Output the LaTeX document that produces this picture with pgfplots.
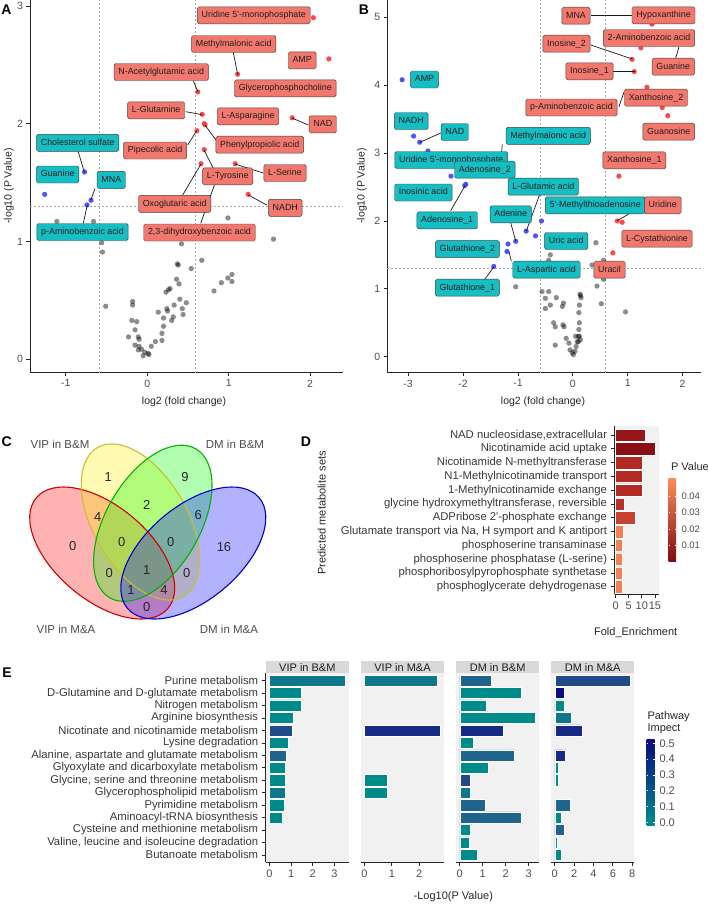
\documentclass[border=0pt]{standalone}
\usepackage{fontspec}
\setmainfont{Liberation Sans}
\usepackage{pgfplots}
\pgfplotsset{compat=1.18}

\definecolor{redpt}{RGB}{250,58,58}
\definecolor{bluept}{RGB}{68,68,250}
\definecolor{redlab}{RGB}{242,120,110}
\definecolor{tealab}{RGB}{20,190,195}
\definecolor{tickgray}{RGB}{77,77,77}
\definecolor{panelbg}{RGB}{241,241,241}
\definecolor{stripbg}{RGB}{217,217,217}
\definecolor{i0}{RGB}{0,139,139}
\definecolor{i1}{RGB}{15,119,139}
\definecolor{i2}{RGB}{30,100,140}
\definecolor{i3}{RGB}{32,74,138}
\definecolor{i4}{RGB}{21,42,133}
\definecolor{i5}{RGB}{10,10,128}
\definecolor{dc1}{RGB}{150,22,25}
\definecolor{dc2}{RGB}{138,15,20}
\definecolor{dc3}{RGB}{178,42,36}
\definecolor{dc4}{RGB}{184,48,40}
\definecolor{dc5}{RGB}{198,66,48}
\definecolor{dc6}{RGB}{244,128,82}
\definecolor{plow}{RGB}{125,12,18}
\definecolor{phigh}{RGB}{255,140,90}

\pgfplotsset{
  base/.style={
    scale only axis, anchor=north west, clip=false,
    axis x line=bottom, axis y line=left,
    axis line style={-, black!85, line width=0.9pt},
    tick align=outside, major tick length=3.5pt,
    tick style={black!85, line width=0.7pt},
    minor tick num=0,
    /pgf/number format/assume math mode=true,
    tick label style={text=tickgray},
    x axis line style={-}, y axis line style={-},
  },
  volc/.style={base, tick label style={font=\fontsize{10.5}{12}\selectfont}},
  refl/.style={dash pattern=on 2pt off 2pt, gray!70, line width=0.5pt},
  gpt/.style={only marks, mark=*, mark size=2.65pt, mark options={line width=0pt, draw opacity=0, fill=black, fill opacity=0.45}},
  rpt/.style={only marks, mark=*, mark size=2.6pt, mark options={line width=0pt, draw opacity=0, fill=redpt, fill opacity=0.92}},
  bpt/.style={only marks, mark=*, mark size=2.6pt, mark options={line width=0pt, draw opacity=0, fill=bluept, fill opacity=0.92}},
  bars/.style={base, axis background/.style={fill=panelbg},
     tick label style={font=\fontsize{11}{12}\selectfont},
     major tick length=4pt},
  bb/.style={xbar, bar width=0.9, bar shift=0pt, draw=white, line width=0.5pt},
}

\tikzset{
 lab/.style={draw=black!75, line width=0.45pt, rounded corners=1.6pt, inner xsep=4.3pt, inner ysep=0pt,
   minimum height=17pt, text height=6.5pt, text depth=1.8pt, font=\fontsize{8.9}{10}\selectfont, text=black!88},
 lr/.style={lab, fill=redlab}, lt/.style={lab, fill=tealab},
 cn/.style={black!90, line width=0.7pt},
 ttl/.style={font=\fontsize{10.5}{12}\selectfont, text=black!85},
 ttl2/.style={font=\fontsize{11}{12}\selectfont, text=black!85},
 letter/.style={font=\fontsize{14}{16}\selectfont\bfseries},
 vn/.style={font=\fontsize{13}{14}\selectfont, text=black!85},
 vs/.style={font=\fontsize{11.5}{13}\selectfont, text=black!70},
 cbl/.style={font=\fontsize{9.5}{11}\selectfont, text=tickgray, anchor=west},
 cbl2/.style={font=\fontsize{11}{12}\selectfont, text=tickgray, anchor=west},
}

\begin{document}
\begin{tikzpicture}
\useasboundingbox (0pt,0pt) rectangle (708pt,-906pt);

% ---------------- Panel A ----------------
\begin{axis}[volc, at={(30pt,0pt)}, width=312.7pt, height=372.7pt,
  xmin=-1.44, xmax=2.40, ymin=-0.114, ymax=3.05, xtick={-1,0,1,2}, ytick={0,1,2,3}]
\addplot[refl] coordinates {(-0.585,-0.114) (-0.585,3.05)};
\addplot[refl] coordinates {(0.585,-0.114) (0.585,3.05)};
\addplot[refl] coordinates {(-1.44,1.301) (2.40,1.301)};
\addplot[gpt] coordinates {(-1.11,1.17) (-0.66,1.17) (-0.56,0.99) (-0.55,0.91) (-0.51,0.45) (0.42,0.98) (0.99,1.20) (1.55,1.02) (0.67,0.84) (0.37,0.81) (0.38,0.80) (0.54,0.77) (0.36,0.68) (0.39,0.64) (0.26,0.59) (0.23,0.57) (0.28,0.60) (0.82,0.58) (0.91,0.65) (1.04,0.72) (0.99,0.69) (1.04,0.66) (-0.18,0.49) (-0.18,0.46) (0.40,0.51) (0.48,0.48) (0.33,0.46) (0.43,0.43) (0.135,0.40) (0.24,0.43) (0.44,0.38) (0.32,0.36) (0.20,0.35) (-0.19,0.33) (-0.13,0.32) (-0.15,0.25) (0.20,0.28) (0.18,0.22) (-0.23,0.19) (-0.11,0.19) (-0.10,0.17) (0.18,0.16) (0.10,0.15) (-0.15,0.12) (-0.10,0.11) (-0.07,0.085) (0.05,0.11) (-0.03,0.06) (0.01,0.05) (-0.05,0.03) (0.02,0.04) (-0.11,0.08) (0.25,0.41) (0.30,0.33)};
\addplot[rpt] coordinates {(2.04,2.90) (2.23,2.55) (1.11,2.42) (0.62,2.27) (0.675,2.08) (0.70,2.00) (0.71,1.99) (0.61,1.94) (1.78,2.05) (0.70,1.78) (1.08,1.66) (0.66,1.66) (0.83,1.50) (1.24,1.40)};
\addplot[bpt] coordinates {(-0.77,1.59) (-1.26,1.40) (-0.69,1.35) (-0.74,1.31)};
\end{axis}

% ---------------- Panel B ----------------
\begin{axis}[volc, at={(387.3pt,0pt)}, width=313.4pt, height=372.7pt,
  xmin=-3.38, xmax=2.33, ymin=-0.236, ymax=5.255, xtick={-3,-2,-1,0,1,2}, ytick={0,1,2,3,4,5}]
\addplot[refl] coordinates {(-0.585,-0.236) (-0.585,5.255)};
\addplot[refl] coordinates {(0.585,-0.236) (0.585,5.255)};
\addplot[refl] coordinates {(-3.38,1.301) (2.33,1.301)};
\addplot[gpt] coordinates {(-1.04,1.03) (-0.41,1.50) (-0.44,1.42) (0.42,1.68) (0.35,1.35) (0.56,1.42) (0.56,1.14) (0.44,1.04) (0.52,0.78) (0.96,0.66) (-0.56,0.96) (-0.50,0.86) (-0.44,0.96) (-0.30,0.87) (-0.41,0.76) (-0.50,0.71) (-0.19,0.74) (-0.17,0.79) (-0.35,0.50) (-0.32,0.44) (-0.18,0.47) (-0.16,0.44) (-0.32,0.17) (-0.12,0.27) (-0.07,0.20) (-0.01,0.06) (0.01,0.03) (0.04,0.08) (0.06,0.15) (0.08,0.22) (0.10,0.30) (0.12,0.30) (0.11,0.40) (0.12,0.50) (0.11,0.65) (0.12,0.76) (0.13,0.92) (0.14,0.90) (0.15,0.87) (0.14,0.25) (0.05,0.30) (-0.05,0.10) (0.10,0.22)};
\addplot[rpt] coordinates {(1.44,4.90) (1.45,4.92) (1.24,4.55) (1.08,4.38) (1.12,4.20) (1.35,3.97) (1.63,3.67) (1.73,3.55) (0.84,2.66) (0.81,2.00) (0.90,1.98) (0.73,1.53)};
\addplot[bpt] coordinates {(-3.11,4.08) (-2.90,3.25) (-2.79,3.16) (-2.64,3.03) (-2.22,2.66) (-1.97,2.52) (-1.95,2.54) (-0.85,1.85) (-0.68,1.78) (-0.57,2.00) (-1.04,1.70) (-1.18,1.66) (-1.20,1.55) (-1.44,1.33)};
\end{axis}

% ---------------- Panel D ----------------
\begin{axis}[bars, at={(614.6pt,-426pt)}, width=44.5pt, height=168.4pt,
  xmin=-0.4, xmax=16.6, ymin=0.45, ymax=12.65, xtick={0,5,10,15},
  ytick={1,...,12},
  yticklabels={phosphoglycerate dehydrogenase, phosphoribosylpyrophosphate synthetase, phosphoserine phosphatase (L-serine), phosphoserine transaminase, {Glutamate transport via Na, H symport and K antiport}, ADPribose 2\textquotesingle-phosphate exchange, {glycine hydroxymethyltransferase, reversible}, 1-Methylnicotinamide exchange, N1-Methylnicotinamide transport, Nicotinamide N-methyltransferase, Nicotinamide acid uptake, {NAD nucleosidase,extracellular}},
  yticklabel style={font=\fontsize{11.3}{12}\selectfont, text=black!78}]
\addplot[bb, fill=dc6] coordinates {(2.5,1) (2.5,2) (2.5,3) (2.5,4) (2.9,5)};
\addplot[bb, fill=dc5] coordinates {(7.3,6)};
\addplot[bb, fill=dc4] coordinates {(3.2,7)};
\addplot[bb, fill=dc3] coordinates {(10,8) (10,9) (10,10)};
\addplot[bb, fill=dc2] coordinates {(15,11)};
\addplot[bb, fill=dc1] coordinates {(11.2,12)};
\end{axis}

% ---------------- Panel E ----------------
\begin{axis}[bars, at={(265.7pt,-673.2pt)}, width=83.3pt, height=189.2pt,
  xmin=-0.175, xmax=3.675, ymin=0.4, ymax=15.6, xtick={0,1,2,3},
  ytick={1,...,15},
  yticklabels={Butanoate metabolism, {Valine, leucine and isoleucine degradation}, Cysteine and methionine metabolism, Aminoacyl-tRNA biosynthesis, Pyrimidine metabolism, Glycerophospholipid metabolism, {Glycine, serine and threonine metabolism}, Glyoxylate and dicarboxylate metabolism, {Alanine, aspartate and glutamate metabolism}, Lysine degradation, Nicotinate and nicotinamide metabolism, Arginine biosynthesis, Nitrogen metabolism, D-Glutamine and D-glutamate metabolism, Purine metabolism},
  yticklabel style={font=\fontsize{11.3}{12}\selectfont, text=black!78}]
\addplot[bb, fill=i0] coordinates {(1.48,14) (1.48,13) (1.10,12) (0.87,10) (0.75,8) (0.75,7) (0.67,5) (0.61,4)};
\addplot[bb, fill=i1] coordinates {(3.50,15) (0.72,6)};
\addplot[bb, fill=i2] coordinates {(0.79,9)};
\addplot[bb, fill=i3] coordinates {(1.07,11)};
\end{axis}

\begin{axis}[bars, at={(360.7pt,-673.2pt)}, width=83.6pt, height=189.2pt,
  axis y line=none, ytick=\empty,
  xmin=-0.139, xmax=2.919, ymin=0.4, ymax=15.6, xtick={0,1,2}]
\addplot[bb, fill=i0] coordinates {(0.84,7) (0.84,6)};
\addplot[bb, fill=i1] coordinates {(2.65,15)};
\addplot[bb, fill=i4] coordinates {(2.78,11)};
\end{axis}

\begin{axis}[bars, at={(456pt,-673.2pt)}, width=83.3pt, height=189.2pt,
  axis y line=none, ytick=\empty,
  xmin=-0.165, xmax=3.465, ymin=0.4, ymax=15.6, xtick={0,1,2,3}]
\addplot[bb, fill=i0] coordinates {(2.69,14) (1.15,13) (3.30,12) (0.57,10) (1.26,8) (0.47,3) (0.40,2) (0.76,1)};
\addplot[bb, fill=i1] coordinates {(0.44,6)};
\addplot[bb, fill=i2] coordinates {(1.37,15) (2.37,9) (1.12,5) (2.69,4)};
\addplot[bb, fill=i3] coordinates {(0.47,7)};
\addplot[bb, fill=i4] coordinates {(1.90,11)};
\end{axis}

\begin{axis}[bars, at={(551pt,-673.2pt)}, width=83.3pt, height=189.2pt,
  axis y line=none, ytick=\empty,
  xmin=-0.39, xmax=8.22, ymin=0.4, ymax=15.6, xtick={0,2,4,6,8}]
\addplot[bb, fill=i0] coordinates {(1.02,13) (0.34,8) (0.34,7) (0.68,4) (0.24,2) (0.65,1)};
\addplot[bb, fill=i1] coordinates {(1.67,12)};
\addplot[bb, fill=i2] coordinates {(1.60,5) (1.02,3)};
\addplot[bb, fill=i3] coordinates {(7.83,15)};
\addplot[bb, fill=i4] coordinates {(2.79,11) (1.09,9)};
\addplot[bb, fill=i5] coordinates {(1.02,14)};
\end{axis}

\begin{scope}[x=1pt,y=-1pt]
% titles A/B
\node[ttl] at (184,401.7) {log2 (fold change)};
\node[ttl] at (543,401.7) {log2 (fold change)};
\node[ttl, rotate=90] at (9,186) {-log10 (P Value)};
\node[ttl, rotate=90] at (362,186) {-log10 (P Value)};
\node[letter] at (6.5,10) {A};
\node[letter] at (364,10) {B};
\node[letter] at (6.7,441.7) {C};
\node[letter] at (306,442) {D};
\node[letter] at (7,673) {E};

% connectors A
\draw[cn] (233.3,52.3) -- (237.7,74.7);
\draw[cn] (193.3,80.7) -- (198,92);
\draw[cn] (185.7,111.7) -- (202.3,114.7);
\draw[cn] (292,118) -- (308.3,125);
\draw[cn] (205,125) -- (216,140);
\draw[cn] (187.7,145) -- (196.7,130.7);
\draw[cn] (78.3,151.7) -- (84.3,172.3);
\draw[cn] (95,188.7) -- (90.7,200);
\draw[cn] (204,150) -- (213.3,168.3);
\draw[cn] (235,164) -- (263.3,173);
\draw[cn] (181.7,196.7) -- (201,164);
\draw[cn] (215,183.3) -- (200.7,223.3);
\draw[cn] (248.3,195) -- (266.7,205);
\draw[cn] (83.3,223.3) -- (87.3,205);
% labels A
\node[lr] at (253.8,15.3) {Uridine 5\textquotesingle-monophosphate};
\node[lr] at (233.7,44) {Methylmalonic acid};
\node[lr] at (302.2,60.3) {AMP};
\node[lr] at (161.2,72) {N-Acetylglutamic acid};
\node[lr] at (285.3,88.3) {Glycerophosphocholine};
\node[lr] at (156.2,110.3) {L-Glutamine};
\node[lr] at (248,116.3) {L-Asparagine};
\node[lr] at (322.8,124.3) {NAD};
\node[lr] at (259.7,144.7) {Phenylpropiolic acid};
\node[lr] at (155.2,150.5) {Pipecolic acid};
\node[lr] at (227.7,176.3) {L-Tyrosine};
\node[lr] at (285,173) {L-Serine};
\node[lr] at (174.7,203.8) {Oxoglutaric acid};
\node[lr] at (199.5,232.5) {2,3-dihydroxybenzoic acid};
\node[lr] at (285.3,207.8) {NADH};
\node[lt] at (77.7,142.8) {Cholesterol sulfate};
\node[lt] at (57.7,174.5) {Guanine};
\node[lt] at (111.3,179.8) {MNA};
\node[lt] at (82.5,232) {p-Aminobenzoic acid};

% connectors B
\draw[cn] (591.3,15.7) -- (632.3,15.7);
\draw[cn] (590.7,45) -- (632.3,59);
\draw[cn] (675.7,58.3) -- (679,46.7);
\draw[cn] (613.3,71.3) -- (634.7,71.3);
\draw[cn] (619,106.7) -- (624,92);
\draw[cn] (420,142.3) -- (440.7,133);
\draw[cn] (502.3,144.3) -- (500.7,163.3);
\draw[cn] (540.7,191.7) -- (526.3,231);
\draw[cn] (465,185.7) -- (450.7,210.7);
\draw[cn] (510.7,222.7) -- (515.7,241);
\draw[cn] (617.3,220.7) -- (643.3,205.3);
\draw[cn] (509,251.7) -- (511.3,261);
\draw[cn] (494,266.7) -- (484.7,279.3);
% labels B
\node[lr] at (576,15.7) {MNA};
\node[lr] at (663.5,15.3) {Hypoxanthine};
\node[lr] at (649,38) {2-Aminobenzoic acid};
\node[lr] at (566.5,43.7) {Inosine\_2};
\node[lr] at (673.2,66.7) {Guanine};
\node[lr] at (589.5,71.3) {Inosine\_1};
\node[lr] at (656,97.7) {Xanthosine\_2};
\node[lr] at (571.5,107.5) {p-Aminobenzoic acid};
\node[lr] at (668.7,131.7) {Guanosine};
\node[lr] at (634.3,160.3) {Xanthosine\_1};
\node[lr] at (657,238.7) {L-Cystathionine};
\node[lr] at (609.5,269.7) {Uracil};
\node[lt] at (424.5,79.5) {AMP};
\node[lt] at (411.2,121) {NADH};
\node[lt] at (454.8,132) {NAD};
\node[lt] at (548.2,135.8) {Methylmalonic acid};
\node[lt] at (451.2,160) {Uridine 5\textquotesingle-monophosphate};
\node[lt] at (484.8,169.7) {Adenosine\_2};
\node[lt] at (543.3,186.7) {L-Glutamic acid};
\node[lt] at (423.3,192.5) {Inosinic acid};
\node[lt] at (447.2,220.3) {Adenosine\_1};
\node[lt] at (510.7,214.3) {Adenine};
\node[lt] at (595.2,205.3) {5\textquotesingle-Methylthioadenosine};
\node[lr] at (662.8,205.3) {Uridine};
\node[lt] at (467.3,249.2) {Glutathione\_2};
\node[lt] at (566.2,241) {Uric acid};
\node[lt] at (546.5,269.7) {L-Aspartic acid};
\node[lt] at (467.3,287.7) {Glutathione\_1};

% ---------------- Panel C (Venn) ----------------
\fill[red, fill opacity=0.3, rotate around={-40:(102.2,553)}] (102.2,553) ellipse [x radius=86, y radius=47];
\fill[yellow, fill opacity=0.3, rotate around={-60:(140.5,522)}] (140.5,522) ellipse [x radius=86, y radius=47];
\fill[green, fill opacity=0.3, rotate around={60:(152.8,523.3)}] (152.8,523.3) ellipse [x radius=86, y radius=47];
\fill[blue, fill opacity=0.3, rotate around={40:(193.3,553)}] (193.3,553) ellipse [x radius=86, y radius=47];
\draw[red!80!black, line width=1.1pt, rotate around={-40:(102.2,553)}] (102.2,553) ellipse [x radius=86, y radius=47];
\draw[yellow!75!black, line width=1.1pt, rotate around={-60:(140.5,522)}] (140.5,522) ellipse [x radius=86, y radius=47];
\draw[green!70!black, line width=1.1pt, rotate around={60:(152.8,523.3)}] (152.8,523.3) ellipse [x radius=86, y radius=47];
\draw[blue!80!black, line width=1.1pt, rotate around={40:(193.3,553)}] (193.3,553) ellipse [x radius=86, y radius=47];
\node[vn] at (108.3,477.3) {1};
\node[vn] at (185,477.3) {9};
\node[vn] at (146.7,505) {2};
\node[vn] at (97.7,516.7) {4};
\node[vn] at (198.3,515) {6};
\node[vn] at (72.7,546) {0};
\node[vn] at (121.7,541.7) {0};
\node[vn] at (170.7,541.7) {0};
\node[vn] at (224,547.3) {16};
\node[vn] at (109.3,572.7) {0};
\node[vn] at (146.7,570) {1};
\node[vn] at (186.7,572.7) {0};
\node[vn] at (131,590) {1};
\node[vn] at (164,590) {4};
\node[vn] at (146.7,607.3) {0};
\node[vs] at (60,444) {VIP in B\&M};
\node[vs] at (235,444) {DM in B\&M};
\node[vs] at (66,629) {VIP in M\&A};
\node[vs] at (229,629) {DM in M\&A};

% ---------------- Panel D extras ----------------
\node[ttl2, rotate=90] at (321.7,513) {Predicted metabolite sets};
\node[ttl2] at (635.7,632.7) {Fold\_Enrichment};
\node[font=\fontsize{11}{12}\selectfont, text=black!85, anchor=west] at (667.5,466.7) {P Value};
\shade[bottom color=plow, top color=phigh] (668.5,478.3) rectangle (676,561.7);
\foreach \yy/\tt in {545.5/0.01, 529/0.02, 512.5/0.03, 496/0.04} {
  \draw[white, line width=0.5pt] (668.5,\yy) -- (670,\yy);
  \draw[white, line width=0.5pt] (674.5,\yy) -- (676,\yy);
  \node[cbl] at (678,\yy) {\tt};
}

% ---------------- Panel E extras ----------------
\foreach \xa/\xb/\tt in {265.7/349/VIP in B\&M, 360.7/444.3/VIP in M\&A, 456/539.3/DM in B\&M, 551/634.3/DM in M\&A} {
  \fill[stripbg] (\xa,661) rectangle (\xb,673.2);
  \node[font=\fontsize{11}{12}\selectfont, text=black!88] at ({(\xa+\xb)/2},667.3) {\tt};
}
\node[ttl2] at (453.3,896.7) {-Log10(P Value)};
\node[font=\fontsize{11}{12}\selectfont, text=black!85, anchor=west] at (644,716.7) {Pathway};
\node[font=\fontsize{11}{12}\selectfont, text=black!85, anchor=west] at (644,729.3) {Impect};
\shade[bottom color=i0, middle color=i2, top color=i5] (646.7,739) rectangle (654.5,825);
\foreach \yy/\tt in {822.3/0.0, 806.5/0.1, 790.7/0.2, 774.9/0.3, 759.1/0.4, 743.3/0.5} {
  \draw[white, line width=0.5pt] (646.7,\yy) -- (648.2,\yy);
  \draw[white, line width=0.5pt] (653,\yy) -- (654.5,\yy);
  \node[cbl2] at (656,\yy) {\tt};
}
\end{scope}
\end{tikzpicture}
\end{document}
